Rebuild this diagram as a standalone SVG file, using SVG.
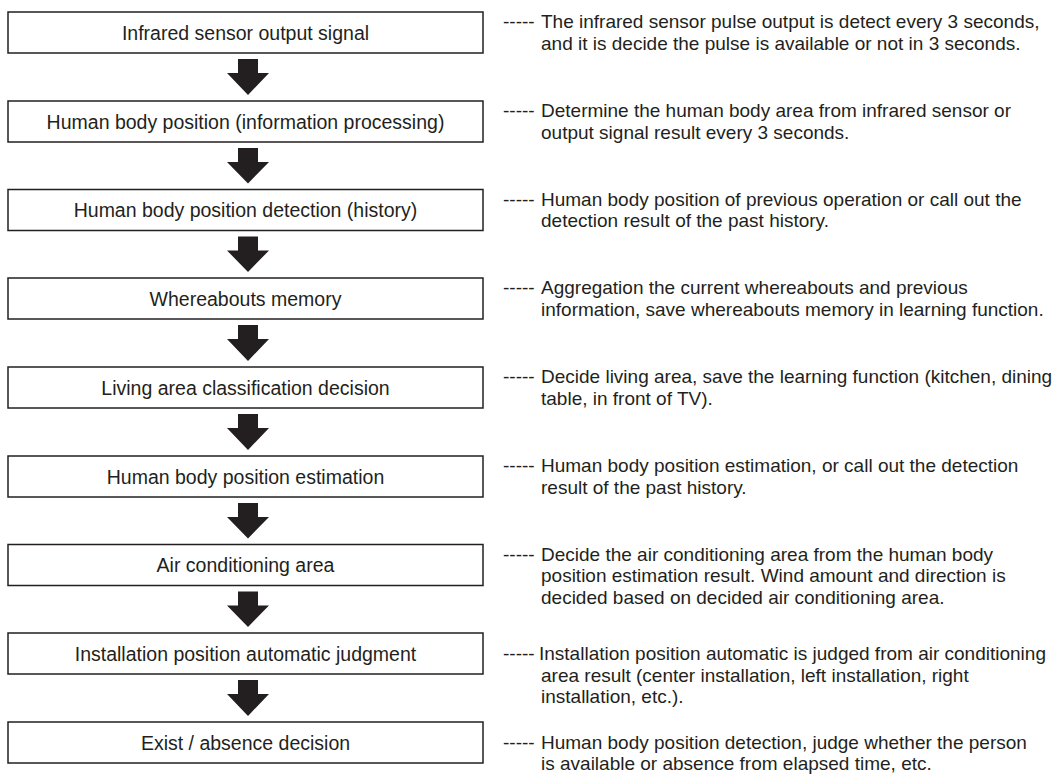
<svg xmlns="http://www.w3.org/2000/svg" width="1060" height="775" viewBox="0 0 1060 775">
<style>
.box{fill:#fff;stroke:#231f20;stroke-width:1.5}
.lbl{font-family:"Liberation Sans",Arial,sans-serif;font-size:19.5px;fill:#231f20;text-anchor:middle}
.desc{font-family:"Liberation Sans",Arial,sans-serif;font-size:19px;fill:#231f20}
.arr{fill:#231f20}
</style>
<rect width="1060" height="775" fill="#fff"/>
<g id="connectors">
<path class="arr" d="M238,59H258V73H269L248,95L227,73H238Z"/>
<path class="arr" d="M238,148H258V162H269L248,183.5L227,162H238Z"/>
<path class="arr" d="M238,236.5H258V250.5H269L248,272L227,250.5H238Z"/>
<path class="arr" d="M238,325H258V339H269L248,361L227,339H238Z"/>
<path class="arr" d="M238,414H258V428H269L248,450L227,428H238Z"/>
<path class="arr" d="M238,503H258V517H269L248,538.5L227,517H238Z"/>
<path class="arr" d="M238,591.5H258V605.5H269L248,627L227,605.5H238Z"/>
<path class="arr" d="M238,680H258V694H269L248,716L227,694H238Z"/>
</g>
<g id="n1"><rect class="box" x="8" y="12" width="475" height="41"/><text class="lbl" x="245.5" y="39.5">Infrared sensor output signal</text>
<text class="desc" x="503" y="28.25">-----</text><text class="desc" y="28.25"><tspan x="541">The infrared sensor pulse output is detect every 3 seconds,</tspan><tspan x="541" dy="21.5">and it is decide the pulse is available or not in 3 seconds.</tspan></text></g>
<g id="n2"><rect class="box" x="8" y="101" width="475" height="41"/><text class="lbl" x="245.5" y="128.5">Human body position (information processing)</text>
<text class="desc" x="503" y="117.25">-----</text><text class="desc" y="117.25"><tspan x="541">Determine the human body area from infrared sensor or</tspan><tspan x="541" dy="21.5">output signal result every 3 seconds.</tspan></text></g>
<g id="n3"><rect class="box" x="8" y="189.5" width="475" height="41"/><text class="lbl" x="245.5" y="217">Human body position detection (history)</text>
<text class="desc" x="503" y="205.75">-----</text><text class="desc" y="205.75"><tspan x="541">Human body position of previous operation or call out the</tspan><tspan x="541" dy="21.5">detection result of the past history.</tspan></text></g>
<g id="n4"><rect class="box" x="8" y="278" width="475" height="41"/><text class="lbl" x="245.5" y="305.5">Whereabouts memory</text>
<text class="desc" x="503" y="294.25">-----</text><text class="desc" y="294.25"><tspan x="541">Aggregation the current whereabouts and previous</tspan><tspan x="541" dy="21.5">information, save whereabouts memory in learning function.</tspan></text></g>
<g id="n5"><rect class="box" x="8" y="367" width="475" height="41"/><text class="lbl" x="245.5" y="394.5">Living area classification decision</text>
<text class="desc" x="503" y="383.25">-----</text><text class="desc" y="383.25"><tspan x="541">Decide living area, save the learning function (kitchen, dining</tspan><tspan x="541" dy="21.5">table, in front of TV).</tspan></text></g>
<g id="n6"><rect class="box" x="8" y="456" width="475" height="41"/><text class="lbl" x="245.5" y="483.5">Human body position estimation</text>
<text class="desc" x="503" y="472.25">-----</text><text class="desc" y="472.25"><tspan x="541">Human body position estimation, or call out the detection</tspan><tspan x="541" dy="21.5">result of the past history.</tspan></text></g>
<g id="n7"><rect class="box" x="8" y="544.5" width="475" height="41"/><text class="lbl" x="245.5" y="572">Air conditioning area</text>
<text class="desc" x="503" y="560.75">-----</text><text class="desc" y="560.75"><tspan x="541">Decide the air conditioning area from the human body</tspan><tspan x="541" dy="21.5">position estimation result. Wind amount and direction is</tspan><tspan x="541" dy="21.5">decided based on decided air conditioning area.</tspan></text></g>
<g id="n8"><rect class="box" x="8" y="633" width="475" height="41"/><text class="lbl" x="245.5" y="660.5">Installation position automatic judgment</text>
<text class="desc" x="503" y="660">-----</text><text class="desc" y="660"><tspan x="539">Installation position automatic is judged from air conditioning</tspan><tspan x="541" dy="21.5">area result (center installation, left installation, right</tspan><tspan x="541" dy="21.5">installation, etc.).</tspan></text></g>
<g id="n9"><rect class="box" x="8" y="722" width="475" height="41"/><text class="lbl" x="245.5" y="749.5">Exist / absence decision</text>
<text class="desc" x="503" y="748.5">-----</text><text class="desc" y="748.5"><tspan x="541">Human body position detection, judge whether the person</tspan><tspan x="541" dy="21.5">is available or absence from elapsed time, etc.</tspan></text></g>
</svg>
